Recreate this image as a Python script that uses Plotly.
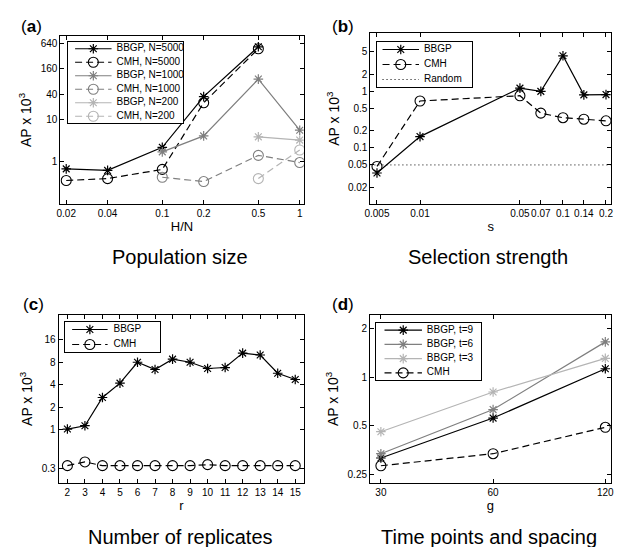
import plotly.graph_objects as go

# ---------------- data ----------------
# (a) Population size
hn = [0.02, 0.04, 0.1, 0.2, 0.5, 1]
hn_ticks = ["0.02", "0.04", "0.1", "0.2", "0.5", "1"]
bbgp_5000 = [0.68, 0.625, 2.2, 35, 530, None]
cmh_5000 = [0.36, 0.40, 0.66, 25, 476, None]
bbgp_1000 = [None, None, 1.72, 4.1, 91, 5.6]
cmh_1000 = [None, None, 0.43, 0.34, 1.42, 0.96]
bbgp_200 = [None, None, None, None, 3.9, 3.27]
cmh_200 = [None, None, None, None, 0.40, 1.9]
a_yticks = [1, 10, 40, 160, 640]

# (b) Selection strength
s_vals = [0.005, 0.01, 0.05, 0.07, 0.1, 0.14, 0.2]
s_ticks = ["0.005", "0.01", "0.05", "0.07", "0.1", "0.14", "0.2"]
bbgp_s = [0.036, 0.158, 1.13, 0.99, 4.2, 0.86, 0.87]
cmh_s = [0.047, 0.67, 0.83, 0.41, 0.34, 0.32, 0.30]
random_level = 0.05
b_yticks = [0.02, 0.05, 0.1, 0.2, 0.5, 1, 2, 5]

# (c) Number of replicates
r_vals = list(range(2, 16))
bbgp_r = [1.02, 1.13, 2.7, 4.2, 8.0, 6.4, 8.8, 8.0, 6.6, 6.8, 10.6, 10.0, 5.7, 4.7]
cmh_r = [0.33, 0.37, 0.33, 0.33, 0.33, 0.33, 0.33, 0.33, 0.34, 0.33, 0.33, 0.33, 0.33, 0.33]
c_yticks = [0.3, 1, 2, 4, 8, 16]

# (d) Time points and spacing
g_vals = [30, 60, 120]
bbgp_t9 = [0.315, 0.558, 1.13]
bbgp_t6 = [0.335, 0.63, 1.66]
bbgp_t3 = [0.459, 0.81, 1.31]
cmh_g = [0.282, 0.335, 0.489]
d_yticks = [0.25, 0.5, 1, 2]

# axis limits (log10 units for log axes)
a_xr = [-1.742, 0.029]; a_yr = [-1.0, 2.98]
b_xr = [-2.347, -0.665]; b_yr = [-1.99, 1.02]
c_xr = [1.5, 15.5]; c_yr = [-0.714, 1.54]
d_xr = [1.448, 2.094]; d_yr = [-0.657, 0.389]

FONT = "Liberation Sans, Arial, sans-serif"
BLACK = "#000000"; GREY = "#7f7f7f"; LIGHT = "#b4b4b4"
DASH = "7px,4px"

# page has an 8px body margin; lay the figure out in window pixels
OFF = 8
W, H = 624 - OFF, 547 - OFF


def px(x0, x1):
    return [(x0 - OFF) / W, (x1 - OFF) / W]


def py(y0, y1):
    return [1 - (y1 - OFF) / H, 1 - (y0 - OFF) / H]


def pxx(x):
    return (x - OFF) / W


def pyy(y):
    return 1 - (y - OFF) / H


fig = go.Figure()


def bbgp_style(color):
    return dict(line=dict(color=color, width=1.2, dash="solid"),
                marker=dict(symbol="asterisk-open", size=8, color=color,
                            line=dict(color=color, width=1.2)))


def cmh_style(color):
    return dict(line=dict(color=color, width=1.2, dash=DASH),
                marker=dict(symbol="circle-open", size=10, color=color,
                            line=dict(color=color, width=1.1)))


def series(x, y, name, color, kind, xa, ya):
    st = bbgp_style(color) if kind == "b" else cmh_style(color)
    fig.add_trace(go.Scatter(x=x, y=y, name=name, mode="lines+markers", xaxis=xa, yaxis=ya,
                             showlegend=False, connectgaps=False, **st))


# (a)
series(hn, bbgp_5000, "BBGP, N=5000", BLACK, "b", "x", "y")
series(hn, cmh_5000, "CMH, N=5000", BLACK, "c", "x", "y")
series(hn, bbgp_1000, "BBGP, N=1000", GREY, "b", "x", "y")
series(hn, cmh_1000, "CMH, N=1000", GREY, "c", "x", "y")
series(hn, bbgp_200, "BBGP, N=200", LIGHT, "b", "x", "y")
series(hn, cmh_200, "CMH, N=200", LIGHT, "c", "x", "y")

# (b)
series(s_vals, bbgp_s, "BBGP", BLACK, "b", "x2", "y2")
series(s_vals, cmh_s, "CMH", BLACK, "c", "x2", "y2")
fig.add_trace(go.Scatter(
    x=[10 ** b_xr[0], 10 ** b_xr[1]], y=[random_level, random_level], name="Random",
    mode="lines", xaxis="x2", yaxis="y2", showlegend=False,
    line=dict(color=BLACK, width=1, dash="1px,3px")))

# (c)
series(r_vals, bbgp_r, "BBGP", BLACK, "b", "x3", "y3")
series(r_vals, cmh_r, "CMH", BLACK, "c", "x3", "y3")

# (d)
series(g_vals, bbgp_t9, "BBGP, t=9", BLACK, "b", "x4", "y4")
series(g_vals, bbgp_t6, "BBGP, t=6", GREY, "b", "x4", "y4")
series(g_vals, bbgp_t3, "BBGP, t=3", LIGHT, "b", "x4", "y4")
series(g_vals, cmh_g, "CMH", BLACK, "c", "x4", "y4")

axis_common = dict(showline=True, linecolor=BLACK, linewidth=1, mirror="ticks",
                   ticks="inside", ticklen=4, tickcolor=BLACK, showgrid=False,
                   zeroline=False, tickangle=0,
                   tickfont=dict(family=FONT, size=10, color=BLACK))
xt_font = dict(family=FONT, size=13, color=BLACK)
yt_font = dict(family=FONT, size=14, color=BLACK)

ytitle = "AP x 10<sup>3</sup>"

fig.update_layout(
    width=W, height=H, margin=dict(l=0, r=0, t=0, b=0),
    paper_bgcolor="white", plot_bgcolor="white", showlegend=False,
    font=dict(family=FONT, color=BLACK),
    xaxis=dict(domain=px(55, 302), anchor="y", type="log", range=a_xr,
               tickvals=hn, ticktext=hn_ticks,
               title=dict(text="H/N", standoff=3, font=xt_font), **axis_common),
    yaxis=dict(domain=py(36, 204), anchor="x", type="log", range=a_yr,
               tickvals=a_yticks, ticktext=[str(v) for v in a_yticks],
               title=dict(text=ytitle, standoff=5, font=yt_font), **axis_common),
    xaxis2=dict(domain=px(369.7, 613.7), anchor="y2", type="log", range=b_xr,
                tickvals=s_vals, ticktext=s_ticks,
                title=dict(text="s", standoff=3, font=xt_font), **axis_common),
    yaxis2=dict(domain=py(33.3, 204), anchor="x2", type="log", range=b_yr,
                tickvals=b_yticks, ticktext=[str(v) for v in b_yticks],
                title=dict(text=ytitle, standoff=5, font=yt_font), **axis_common),
    xaxis3=dict(domain=px(53.3, 302.3), anchor="y3", range=c_xr,
                tickvals=r_vals, ticktext=[str(v) for v in r_vals],
                title=dict(text="r", standoff=3, font=xt_font), **axis_common),
    yaxis3=dict(domain=py(314.7, 483), anchor="x3", type="log", range=c_yr,
                tickvals=c_yticks, ticktext=[str(v) for v in c_yticks],
                title=dict(text=ytitle, standoff=5, font=yt_font), **axis_common),
    xaxis4=dict(domain=px(369.3, 613.7), anchor="y4", type="log", range=d_xr,
                tickvals=g_vals, ticktext=[str(v) for v in g_vals],
                title=dict(text="g", standoff=3, font=xt_font), **axis_common),
    yaxis4=dict(domain=py(314.7, 483), anchor="x4", type="log", range=d_yr,
                tickvals=d_yticks, ticktext=[str(v) for v in d_yticks],
                title=dict(text=ytitle, standoff=5, font=yt_font), **axis_common),
)

# ---------- compact legends drawn in small inset axes ----------
legends = [
    # box (x0, y0, x1, y1) in window px, sample line x0/x1 and text x relative to box
    dict(box=(63, 42, 180, 123), sx=(7, 44), tx=49,
         entries=[("BBGP, N=5000", BLACK, "b"), ("CMH, N=5000", BLACK, "c"),
                  ("BBGP, N=1000", GREY, "b"), ("CMH, N=1000", GREY, "c"),
                  ("BBGP, N=200", LIGHT, "b"), ("CMH, N=200", LIGHT, "c")]),
    dict(box=(376, 42, 473, 87), sx=(6, 43), tx=48,
         entries=[("BBGP", BLACK, "b"), ("CMH", BLACK, "c"), ("Random", BLACK, "r")]),
    dict(box=(60, 322, 156, 352), sx=(7, 43), tx=49,
         entries=[("BBGP", BLACK, "b"), ("CMH", BLACK, "c")]),
    dict(box=(375, 323, 482, 380), sx=(9, 47), tx=52,
         entries=[("BBGP, t=9", BLACK, "b"), ("BBGP, t=6", GREY, "b"),
                  ("BBGP, t=3", LIGHT, "b"), ("CMH", BLACK, "c")]),
]

inset_axis = dict(showline=True, linecolor=BLACK, linewidth=1, mirror=True, ticks="",
                  showticklabels=False, showgrid=False, zeroline=False, fixedrange=True)

for k, lg in enumerate(legends):
    idx = 5 + k
    xa, ya = "x%d" % idx, "y%d" % idx
    x0, y0, x1, y1 = lg["box"]
    bw, bh = x1 - x0, y1 - y0
    fig.update_layout({
        "xaxis%d" % idx: dict(domain=px(x0, x1), anchor=ya, range=[0, bw], **inset_axis),
        "yaxis%d" % idx: dict(domain=py(y0, y1), anchor=xa, range=[bh, 0], **inset_axis),
    })
    n = len(lg["entries"])
    for i, (name, color, kind) in enumerate(lg["entries"]):
        yc = bh * (i + 0.5) / n
        sx0, sx1 = lg["sx"]
        if kind == "r":
            fig.add_trace(go.Scatter(x=[sx0, sx1], y=[yc, yc], mode="lines", xaxis=xa, yaxis=ya,
                                     showlegend=False, hoverinfo="skip",
                                     line=dict(color=color, width=1, dash="1px,3px")))
        else:
            st = bbgp_style(color) if kind == "b" else cmh_style(color)
            fig.add_trace(go.Scatter(x=[sx0, sx1], y=[yc, yc], mode="lines", xaxis=xa, yaxis=ya,
                                     showlegend=False, hoverinfo="skip", line=st["line"]))
            fig.add_trace(go.Scatter(x=[(sx0 + sx1) / 2], y=[yc], mode="markers", xaxis=xa, yaxis=ya,
                                     showlegend=False, hoverinfo="skip", marker=st["marker"]))
        fig.add_trace(go.Scatter(x=[lg["tx"]], y=[yc], mode="text", text=[name],
                                 textposition="middle right", xaxis=xa, yaxis=ya,
                                 showlegend=False, hoverinfo="skip",
                                 textfont=dict(family=FONT, size=10, color=BLACK)))

# panel letters
for lbl, xp, yp in [("a", 13, 27), ("b", 329, 27), ("c", 15, 304), ("d", 329, 305)]:
    fig.add_annotation(text="(<b>%s</b>)" % lbl, x=pxx(xp), y=pyy(yp), xref="paper", yref="paper",
                       xanchor="left", yanchor="middle", showarrow=False,
                       font=dict(family=FONT, size=17, color=BLACK))

# panel titles
for txt, xc, yc in [("Population size", 176, 257), ("Selection strength", 489, 257),
                    ("Number of replicates", 177, 537), ("Time points and spacing", 490, 537)]:
    fig.add_annotation(text=txt, x=pxx(xc), y=pyy(yc), xref="paper", yref="paper",
                       xanchor="center", yanchor="middle", showarrow=False,
                       font=dict(family=FONT, size=20, color=BLACK))

fig.write_html("out.html")
